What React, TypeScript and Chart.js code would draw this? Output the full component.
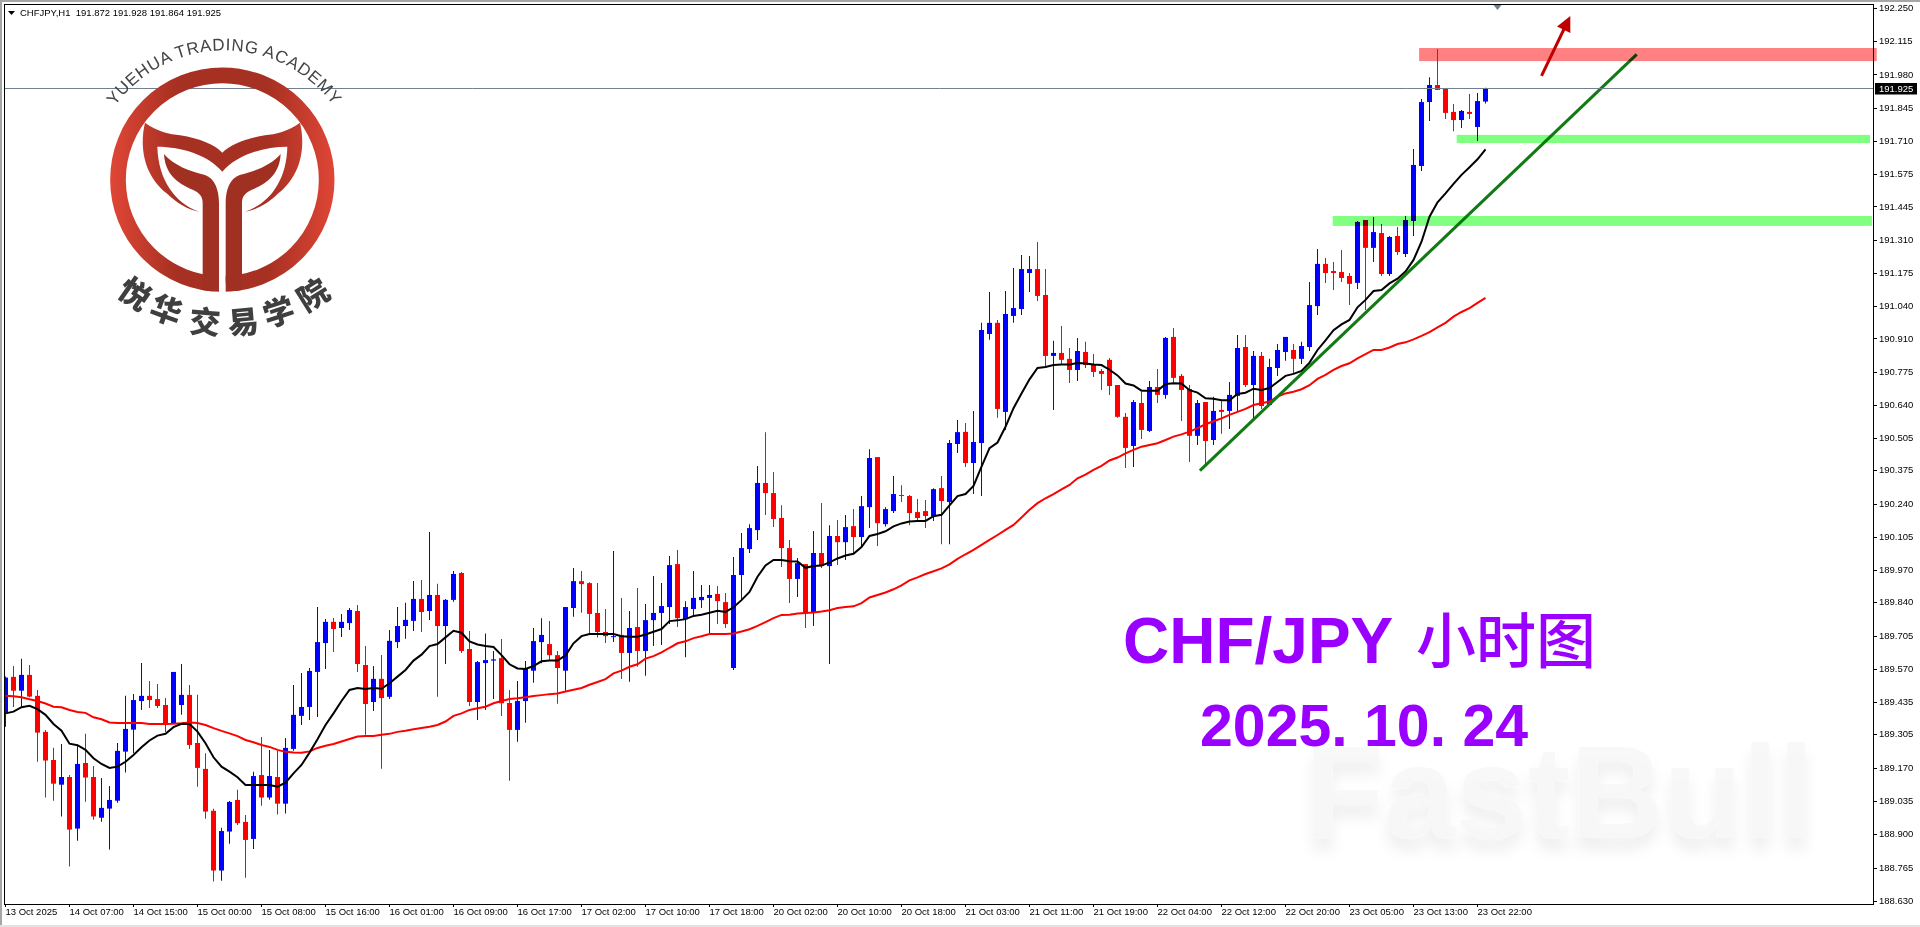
import { useEffect, useRef } from "react";
import { Chart, registerables } from "chart.js";

Chart.register(...registerables);

// CHFJPY H1, one value per bar
const opens = [
  189.396, 189.54, 189.484, 189.548, 189.463, 189.317, 189.203, 189.103, 189.134, 188.925, 189.191, 189.134,
  188.969, 189.006, 189.038, 189.237, 189.326, 189.442, 189.463, 189.45, 189.426, 189.352, 189.426, 189.467,
  189.272, 189.167, 188.997, 188.755, 188.913, 189.041, 188.952, 188.883, 189.142, 189.051, 189.134, 189.026,
  189.248, 189.382, 189.418, 189.56, 189.677, 189.763, 189.738, 189.758, 189.807, 189.588, 189.438, 189.532,
  189.459, 189.681, 189.746, 189.767, 189.856, 189.807, 189.872, 189.746, 189.852, 189.961, 189.653, 189.438,
  189.596, 189.606, 189.616, 189.434, 189.325, 189.442, 189.565, 189.681, 189.673, 189.628, 189.565, 189.819,
  189.928, 189.92, 189.799, 189.722, 189.701, 189.71, 189.637, 189.742, 189.645, 189.77, 189.799, 189.823,
  189.997, 189.774, 189.815, 189.851, 189.86, 189.876, 189.843, 189.576, 189.953, 190.058, 190.135, 190.326,
  190.285, 190.184, 190.062, 189.937, 189.997, 189.803, 190.042, 189.989, 190.111, 190.086, 190.151, 190.107,
  190.228, 190.431, 190.159, 190.212, 190.277, 190.273, 190.208, 190.212, 190.192, 190.305, 190.249, 190.484,
  190.533, 190.407, 190.488, 190.93, 190.975, 190.614, 191.003, 191.031, 191.177, 191.193, 191.088, 190.841,
  190.853, 190.829, 190.784, 190.857, 190.808, 190.78, 190.825, 190.723, 190.594, 190.476, 190.65, 190.537,
  190.715, 190.683, 190.918, 190.76, 190.707, 190.517, 190.654, 190.5, 190.622, 190.618, 190.679, 190.877,
  190.723, 190.841, 190.642, 190.792, 190.857, 190.865, 190.829, 190.877, 191.043, 191.214, 191.185, 191.181,
  191.165, 191.137, 191.392, 191.279, 191.339, 191.173, 191.327, 191.254, 191.388, 191.611, 191.87, 191.939,
  191.923, 191.83, 191.797, 191.83, 191.769, 191.872,
];
const highs = [
  189.541, 189.584, 189.613, 189.588, 189.487, 189.325, 189.253, 189.268, 189.142, 189.26, 189.309, 189.179,
  189.13, 189.098, 189.272, 189.463, 189.471, 189.596, 189.523, 189.511, 189.454, 189.56, 189.592, 189.507,
  189.467, 189.23, 189.005, 188.928, 189.037, 189.082, 188.98, 189.155, 189.296, 189.244, 189.24, 189.292,
  189.507, 189.556, 189.576, 189.823, 189.775, 189.779, 189.795, 189.819, 189.831, 189.665, 189.584, 189.629,
  189.73, 189.823, 189.84, 189.929, 189.933, 190.127, 189.917, 189.856, 189.969, 189.965, 189.726, 189.604,
  189.716, 189.645, 189.693, 189.487, 189.523, 189.604, 189.738, 189.778, 189.766, 189.645, 189.823, 189.981,
  189.969, 189.924, 189.92, 189.815, 190.05, 189.86, 189.807, 189.9, 189.835, 189.949, 189.92, 190.03,
  190.054, 189.847, 189.969, 189.912, 189.912, 189.908, 189.88, 190.026, 190.123, 190.159, 190.395, 190.532,
  190.37, 190.236, 190.095, 190.022, 189.997, 190.131, 190.245, 190.155, 190.176, 190.196, 190.22, 190.273,
  190.463, 190.431, 190.228, 190.354, 190.317, 190.277, 190.261, 190.257, 190.305, 190.354, 190.5, 190.581,
  190.569, 190.618, 190.975, 191.1, 190.987, 191.104, 191.197, 191.25, 191.246, 191.303, 191.193, 190.902,
  190.962, 190.873, 190.914, 190.898, 190.849, 190.788, 190.833, 190.723, 190.61, 190.662, 190.695, 190.739,
  190.788, 190.918, 190.954, 190.768, 190.723, 190.662, 190.654, 190.675, 190.658, 190.735, 190.926, 190.926,
  190.861, 190.857, 190.829, 190.889, 190.918, 190.889, 190.898, 191.141, 191.274, 191.238, 191.222, 191.27,
  191.177, 191.388, 191.392, 191.404, 191.376, 191.327, 191.364, 191.408, 191.68, 191.882, 191.971, 192.085,
  191.923, 191.862, 191.838, 191.903, 191.907, 191.928,
];
const lows = [
  189.338, 189.418, 189.419, 189.457, 189.196, 189.051, 189.038, 188.974, 188.771, 188.876, 189.034, 188.961,
  188.953, 188.84, 189.03, 189.152, 189.23, 189.406, 189.414, 189.414, 189.317, 189.349, 189.386, 189.248,
  189.095, 188.965, 188.71, 188.714, 188.864, 188.94, 188.726, 188.842, 189.018, 189.042, 188.982, 188.986,
  189.24, 189.345, 189.365, 189.377, 189.572, 189.641, 189.702, 189.73, 189.56, 189.305, 189.402, 189.168,
  189.45, 189.657, 189.694, 189.726, 189.722, 189.771, 189.459, 189.592, 189.844, 189.637, 189.422, 189.365,
  189.406, 189.45, 189.381, 189.119, 189.277, 189.354, 189.516, 189.595, 189.608, 189.431, 189.484, 189.784,
  189.8, 189.716, 189.7, 189.677, 189.681, 189.531, 189.52, 189.581, 189.545, 189.665, 189.669, 189.754,
  189.742, 189.62, 189.791, 189.819, 189.716, 189.754, 189.738, 189.568, 189.851, 190.042, 190.095, 190.196,
  190.147, 189.985, 189.839, 189.864, 189.738, 189.746, 189.981, 189.592, 189.993, 190.014, 190.042, 190.066,
  190.143, 190.07, 190.15, 190.204, 190.249, 190.155, 190.176, 190.143, 190.172, 190.078, 190.078, 190.447,
  190.391, 190.281, 190.273, 190.906, 190.59, 190.541, 190.975, 191.007, 191.1, 191.064, 190.792, 190.622,
  190.804, 190.731, 190.739, 190.792, 190.756, 190.703, 190.683, 190.59, 190.387, 190.391, 190.504, 190.533,
  190.65, 190.667, 190.731, 190.577, 190.411, 190.48, 190.399, 190.48, 190.525, 190.545, 190.614, 190.715,
  190.585, 190.626, 190.638, 190.76, 190.821, 190.768, 190.808, 190.861, 191.007, 191.137, 191.108, 191.141,
  191.047, 191.112, 191.027, 191.222, 191.165, 191.165, 191.25, 191.242, 191.327, 191.591, 191.793, 191.919,
  191.801, 191.752, 191.765, 191.801, 191.712, 191.864,
];
const closes = [
  189.537, 189.484, 189.548, 189.46, 189.314, 189.201, 189.107, 189.134, 188.921, 189.187, 189.132, 188.974,
  189.009, 189.041, 189.24, 189.329, 189.446, 189.463, 189.446, 189.422, 189.349, 189.56, 189.467, 189.264,
  189.171, 188.994, 188.755, 188.915, 189.033, 188.947, 188.879, 189.138, 189.051, 189.138, 189.026, 189.252,
  189.386, 189.418, 189.564, 189.681, 189.763, 189.734, 189.763, 189.811, 189.592, 189.43, 189.532, 189.454,
  189.686, 189.746, 189.771, 189.856, 189.803, 189.872, 189.746, 189.852, 189.957, 189.645, 189.438, 189.6,
  189.608, 189.611, 189.433, 189.325, 189.442, 189.572, 189.685, 189.71, 189.628, 189.576, 189.823, 189.928,
  189.916, 189.795, 189.722, 189.705, 189.705, 189.637, 189.738, 189.645, 189.77, 189.799, 189.827, 189.993,
  189.778, 189.823, 189.86, 189.864, 189.872, 189.847, 189.754, 189.953, 190.062, 190.143, 190.326, 190.285,
  190.18, 190.062, 189.937, 190.001, 189.799, 190.042, 189.989, 190.111, 190.086, 190.147, 190.107, 190.232,
  190.427, 190.163, 190.22, 190.281, 190.273, 190.204, 190.184, 190.192, 190.301, 190.253, 190.488, 190.532,
  190.407, 190.492, 190.946, 190.975, 190.626, 191.011, 191.035, 191.193, 191.193, 191.084, 190.841, 190.853,
  190.825, 190.784, 190.861, 190.804, 190.776, 190.768, 190.719, 190.594, 190.468, 190.654, 190.541, 190.715,
  190.683, 190.914, 190.752, 190.703, 190.517, 190.65, 190.496, 190.618, 190.614, 190.683, 190.873, 190.723,
  190.841, 190.638, 190.796, 190.865, 190.918, 190.829, 190.881, 191.047, 191.214, 191.177, 191.177, 191.157,
  191.133, 191.384, 191.279, 191.343, 191.173, 191.323, 191.262, 191.392, 191.615, 191.87, 191.939, 191.919,
  191.826, 191.797, 191.834, 191.822, 191.874, 191.925,
];
const fastMa = [
  189.392, 189.399, 189.417, 189.423, 189.409, 189.386, 189.349, 189.322, 189.269, 189.263, 189.244, 189.21,
  189.187, 189.171, 189.176, 189.196, 189.223, 189.255, 189.282, 189.302, 189.309, 189.336, 189.35, 189.349,
  189.318, 189.271, 189.214, 189.176, 189.156, 189.133, 189.102, 189.102, 189.102, 189.102, 189.095, 189.111,
  189.149, 189.183, 189.233, 189.287, 189.345, 189.392, 189.442, 189.487, 189.495, 189.491, 189.495, 189.492,
  189.514, 189.541, 189.568, 189.606, 189.63, 189.665, 189.673, 189.7, 189.727, 189.719, 189.684, 189.671,
  189.665, 189.661, 189.628, 189.591, 189.574, 189.572, 189.584, 189.603, 189.606, 189.606, 189.627, 189.676,
  189.705, 189.714, 189.714, 189.714, 189.714, 189.705, 189.703, 189.703, 189.712, 189.723, 189.734, 189.766,
  189.769, 189.774, 189.787, 189.792, 189.8, 189.808, 189.803, 189.822, 189.851, 189.884, 189.946, 189.992,
  190.014, 190.014, 190.009, 190.008, 189.982, 189.989, 189.991, 190.004, 190.02, 190.032, 190.039, 190.066,
  190.111, 190.119, 190.13, 190.15, 190.162, 190.17, 190.172, 190.172, 190.191, 190.197, 190.235, 190.273,
  190.281, 190.314, 190.392, 190.467, 190.49, 190.554, 190.629, 190.689, 190.746, 190.792, 190.796, 190.804,
  190.806, 190.806, 190.812, 190.81, 190.806, 190.804, 190.785, 190.762, 190.729, 190.721, 190.7, 190.7,
  190.7, 190.727, 190.73, 190.729, 190.702, 190.692, 190.669, 190.667, 190.661, 190.661, 190.687, 190.692,
  190.708, 190.703, 190.711, 190.735, 190.76, 190.768, 190.78, 190.814, 190.865, 190.904, 190.945, 190.969,
  190.987, 191.038, 191.068, 191.104, 191.108, 191.135, 191.154, 191.183, 191.23, 191.304, 191.405, 191.464,
  191.5, 191.538, 191.575, 191.606, 191.638, 191.678,
];
const slowMa = [
  189.463, 189.461, 189.457, 189.449, 189.442, 189.432, 189.419, 189.417, 189.406, 189.398, 189.394, 189.376,
  189.368, 189.355, 189.353, 189.353, 189.353, 189.353, 189.349, 189.349, 189.349, 189.35, 189.352, 189.355,
  189.353, 189.345, 189.332, 189.321, 189.311, 189.3, 189.284, 189.275, 189.264, 189.256, 189.244, 189.236,
  189.233, 189.232, 189.238, 189.252, 189.261, 189.268, 189.278, 189.288, 189.298, 189.3, 189.3, 189.305,
  189.309, 189.317, 189.322, 189.328, 189.333, 189.338, 189.345, 189.359, 189.382, 189.392, 189.406, 189.413,
  189.419, 189.433, 189.442, 189.45, 189.453, 189.457, 189.462, 189.466, 189.47, 189.473, 189.481, 189.488,
  189.495, 189.508, 189.519, 189.531, 189.554, 189.565, 189.581, 189.591, 189.614, 189.624, 189.639, 189.658,
  189.676, 189.684, 189.697, 189.705, 189.714, 189.714, 189.714, 189.716, 189.724, 189.733, 189.747, 189.762,
  189.778, 189.791, 189.792, 189.797, 189.799, 189.801, 189.805, 189.81, 189.819, 189.823, 189.826, 189.839,
  189.862, 189.872, 189.882, 189.895, 189.911, 189.931, 189.943, 189.957, 189.968, 189.98, 189.996, 190.018,
  190.037, 190.055, 190.075, 190.095, 190.115, 190.136, 190.156, 190.186, 190.217, 190.244, 190.264, 190.281,
  190.3, 190.318, 190.345, 190.36, 190.379, 190.395, 190.417, 190.429, 190.446, 190.46, 190.473, 190.48,
  190.487, 190.5, 190.514, 190.523, 190.534, 190.548, 190.564, 190.576, 190.588, 190.602, 190.614, 190.626,
  190.642, 190.649, 190.656, 190.676, 190.689, 190.696, 190.706, 190.722, 190.748, 190.764, 190.784, 190.8,
  190.811, 190.831, 190.848, 190.865, 190.865, 190.875, 190.889, 190.896, 190.908, 190.922, 190.937, 190.957,
  190.975, 191.0, 191.019, 191.035, 191.056, 191.076,
];

const timeLabels = [
  "13 Oct 2025", "14 Oct 07:00", "14 Oct 15:00", "15 Oct 00:00", "15 Oct 08:00", "15 Oct 16:00",
  "16 Oct 01:00", "16 Oct 09:00", "16 Oct 17:00", "17 Oct 02:00", "17 Oct 10:00", "17 Oct 18:00",
  "20 Oct 02:00", "20 Oct 10:00", "20 Oct 18:00", "21 Oct 03:00", "21 Oct 11:00", "21 Oct 19:00",
  "22 Oct 04:00", "22 Oct 12:00", "22 Oct 20:00", "23 Oct 05:00", "23 Oct 13:00", "23 Oct 22:00",
];
const barsPerLabel = 8;
const priceTicks = [
  192.25, 192.115, 191.98, 191.845, 191.71, 191.575, 191.445, 191.31, 191.175, 191.04, 190.91, 190.775, 190.64,
  190.505, 190.375, 190.24, 190.105, 189.97, 189.84, 189.705, 189.57, 189.435, 189.305, 189.17, 189.035, 188.9,
  188.765, 188.63,
];
const lastPrice = 191.925;
const header = "CHFJPY,H1  191.872 191.928 191.864 191.925";

// hand drawn objects on the chart, in bars and prices
const zones = [
  { from: 176.7, to: 233.9, low: 192.036, high: 192.089, color: "rgb(255,128,128)" },
  { from: 181.4, to: 233.06, low: 191.704, high: 191.737, color: "rgb(128,255,128)" },
  { from: 165.9, to: 233.3, low: 191.368, high: 191.408, color: "rgb(128,255,128)" },
];
const trendBars = [149.3, 203.9];
const trendPrices = [190.376, 192.063];
const arrowBars = [192.0, 195.6];
const arrowPrices = [191.976, 192.219];

const BLUE = "#0000ff";
const RED = "#ff0000";
const axisFont = { family: "'Liberation Sans', Arial", size: 9.5 };

const barColors = closes.map((c, i) => (c >= opens[i] ? BLUE : RED));

// frame, window edges, price line, zones and the arrow
const chartObjects = {
  id: "chartObjects",
  beforeDraw(chart) {
    const { ctx, width, height } = chart;
    ctx.save();
    ctx.fillStyle = "#fff";
    ctx.fillRect(0, 0, width, height);
    ctx.fillStyle = "#a6a6a6";
    ctx.fillRect(0, 0, width, 2);
    ctx.fillRect(0, 0, 2, height);
    ctx.fillStyle = "#e3e3e3";
    ctx.fillRect(0, height - 2, width, 2);
    ctx.restore();
  },
  afterDatasetsDraw(chart) {
    const { ctx, chartArea: a, scales } = chart;
    const x = scales.x;
    const y = scales.y;
    ctx.save();

    const py = Math.round(y.getPixelForValue(lastPrice)) + 0.5;
    ctx.strokeStyle = "#708090";
    ctx.lineWidth = 1;
    ctx.beginPath();
    ctx.moveTo(a.left, py);
    ctx.lineTo(a.right, py);
    ctx.stroke();

    ctx.globalCompositeOperation = "multiply";
    zones.forEach((z) => {
      const x0 = x.getPixelForValue(z.from);
      const x1 = x.getPixelForValue(z.to);
      const y0 = y.getPixelForValue(z.high);
      const y1 = y.getPixelForValue(z.low);
      ctx.fillStyle = z.color;
      ctx.fillRect(x0, y0, x1 - x0, y1 - y0);
    });
    ctx.globalCompositeOperation = "source-over";

    // frame
    ctx.strokeStyle = "#000";
    ctx.strokeRect(a.left - 0.5, a.top - 0.5, a.right - a.left, a.bottom - a.top + 1);

    // red arrow
    const ax0 = x.getPixelForValue(arrowBars[0]);
    const ay0 = y.getPixelForValue(arrowPrices[0]);
    const ax1 = x.getPixelForValue(arrowBars[1]);
    const ay1 = y.getPixelForValue(arrowPrices[1]);
    const ang = Math.atan2(ay1 - ay0, ax1 - ax0);
    ctx.strokeStyle = "#c00000";
    ctx.fillStyle = "#c00000";
    ctx.lineWidth = 3;
    ctx.beginPath();
    ctx.moveTo(ax0, ay0);
    ctx.lineTo(ax1 - 12 * Math.cos(ang), ay1 - 12 * Math.sin(ang));
    ctx.stroke();
    ctx.beginPath();
    ctx.moveTo(ax1, ay1);
    ctx.lineTo(ax1 - 17 * Math.cos(ang - 0.45), ay1 - 17 * Math.sin(ang - 0.45));
    ctx.lineTo(ax1 - 17 * Math.cos(ang + 0.45), ay1 - 17 * Math.sin(ang + 0.45));
    ctx.closePath();
    ctx.fill();

    // shift marker on the top edge
    const mx = x.getPixelForValue(186.5);
    ctx.fillStyle = "#708090";
    ctx.beginPath();
    ctx.moveTo(mx - 4, a.top);
    ctx.lineTo(mx + 4, a.top);
    ctx.lineTo(mx, a.top + 5);
    ctx.closePath();
    ctx.fill();

    // last price box
    ctx.fillStyle = "#000";
    ctx.fillRect(a.right + 1, py - 5.5, 42, 11.5);
    ctx.fillStyle = "#fff";
    ctx.font = `${axisFont.size}px ${axisFont.family}`;
    ctx.textBaseline = "middle";
    ctx.fillText(lastPrice.toFixed(3), a.right + 5, py + 0.5);

    // header
    ctx.fillStyle = "#000";
    ctx.beginPath();
    ctx.moveTo(8, 11);
    ctx.lineTo(15, 11);
    ctx.lineTo(11.5, 15);
    ctx.closePath();
    ctx.fill();
    ctx.fillText(header, 20, 13);

    ctx.restore();
  },
};

const noLabelMargins = (s) => {
  s.paddingLeft = 0;
  s.paddingRight = 0;
  s.paddingTop = 0;
  s.paddingBottom = 0;
};

const App = () => {
  const canvasRef = useRef<HTMLCanvasElement>(null);

  useEffect(() => {
    const chart = new Chart(canvasRef.current, {
      type: "bar",
      data: {
        datasets: [
          {
            type: "line",
            label: "trend",
            data: trendBars.map((b, i) => ({ x: b, y: trendPrices[i] })),
            borderColor: "#127a12",
            borderWidth: 3,
            pointRadius: 0,
            order: 1,
          },
          {
            type: "line",
            label: "MA fast",
            data: fastMa.map((v, i) => ({ x: i, y: v })),
            borderColor: "#000",
            borderWidth: 2,
            pointRadius: 0,
            order: 2,
          },
          {
            type: "line",
            label: "MA slow",
            data: slowMa.map((v, i) => ({ x: i, y: v })),
            borderColor: RED,
            borderWidth: 2,
            pointRadius: 0,
            order: 3,
          },
          {
            label: "body",
            data: opens.map((o, i) => ({ x: i, y: [o, closes[i]] })),
            backgroundColor: barColors,
            barThickness: 5,
            grouped: false,
            inflateAmount: 0,
            borderWidth: 0,
            order: 4,
          },
          {
            label: "wick",
            data: lows.map((l, i) => ({ x: i, y: [l, highs[i]] })),
            backgroundColor: barColors,
            barThickness: 1,
            grouped: false,
            inflateAmount: 0,
            borderWidth: 0,
            order: 5,
          },
        ],
      },
      options: {
        animation: false,
        responsive: false,
        devicePixelRatio: 1,
        layout: { padding: { left: 5, top: 5, right: 0, bottom: 0 } },
        plugins: { legend: { display: false }, tooltip: { enabled: false } },
        scales: {
          x: {
            type: "linear",
            offset: false,
            min: -0.0625,
            max: 233.56,
            afterBuildTicks: (s) => {
              s.ticks = timeLabels.map((_, i) => ({ value: i * barsPerLabel }));
            },
            afterFit: (s) => {
              s.height = 23;
              noLabelMargins(s);
            },
            border: { display: false },
            grid: { offset: false, drawOnChartArea: false, color: "#000", tickLength: 3 },
            ticks: {
              autoSkip: false,
              maxRotation: 0,
              minRotation: 0,
              align: "start",
              padding: 0,
              color: "#000",
              font: axisFont,
              callback: (v) => timeLabels[Math.round(Number(v) / barsPerLabel)],
            },
          },
          y: {
            type: "linear",
            position: "right",
            min: 188.6193,
            max: 192.2634,
            afterBuildTicks: (s) => {
              s.ticks = priceTicks.map((p) => ({ value: p }));
            },
            afterFit: (s) => {
              s.width = 46;
              noLabelMargins(s);
            },
            border: { display: false },
            grid: { drawOnChartArea: false, color: "#000", tickLength: 3 },
            ticks: {
              autoSkip: false,
              padding: 2,
              color: "#000",
              font: axisFont,
              callback: (v) => Number(v).toFixed(3),
            },
          },
        },
      },
      plugins: [chartObjects],
    });
    return () => chart.destroy();
  }, []);

  const academy = "#444";
  const logoChars = [
    { c: "悦", x: 136, y: 292, r: 35 },
    { c: "华", x: 167, y: 308, r: 20 },
    { c: "交", x: 205, y: 320, r: 5 },
    { c: "易", x: 243, y: 320, r: -5 },
    { c: "学", x: 278, y: 310, r: -18 },
    { c: "院", x: 312, y: 293, r: -32 },
  ];
  const stem =
    "M222 372 C250 405 300 425 345 435 C375 445 387 480 387 520 L387 755 Q387 775 355 783 L338 780 L338 520 C338 500 330 490 310 480 C260 460 225 430 222 372 Z";

  return (
    <div style={{ position: "fixed", left: 0, top: 0, width: 1920, height: 927, overflow: "hidden", background: "#fff" }}>
      <canvas ref={canvasRef} width={1920} height={927} style={{ position: "absolute", left: 0, top: 0 }} />
      <svg width={1920} height={927} style={{ position: "absolute", left: 0, top: 0 }}>
        <defs>
          <linearGradient id="ringGrad" gradientUnits="userSpaceOnUse" x1="60" y1="0" x2="735" y2="0">
            <stop offset="0" stopColor="#e04636" />
            <stop offset="0.3" stopColor="#a63022" />
            <stop offset="0.7" stopColor="#a63022" />
            <stop offset="1" stopColor="#e04636" />
          </linearGradient>
          <path id="academyArc" d="M60 250 A406 406 0 0 1 746 250" />
          <filter id="wmShadow" x="-10%" y="-20%" width="120%" height="150%">
            <feDropShadow dx="0" dy="12" stdDeviation="7" floodColor="#000" floodOpacity="0.07" />
          </filter>
        </defs>

        <text
          style={{ fontFamily: "'Liberation Sans', Arial", fontWeight: 700, fontSize: 64, fill: "#9900ff" }}
          y={663}
        >
          <tspan x={1123}>CHF/JPY</tspan>
          <tspan x={1416} style={{ fontFamily: "'Noto Sans CJK SC'", fontWeight: 500, fontSize: 60 }}>
            小时图
          </tspan>
        </text>
        <text
          x={1200}
          y={746}
          style={{ fontFamily: "'Liberation Sans', Arial", fontWeight: 700, fontSize: 59, fill: "#9900ff" }}
          xmlSpace="preserve"
        >
          2025. 10. 24
        </text>
        <text
          x={1305}
          y={838}
          textLength={509}
          lengthAdjust="spacingAndGlyphs"
          filter="url(#wmShadow)"
          style={{ fontFamily: "'Liberation Sans', Arial", fontWeight: 700, fontSize: 132, fill: "#f7f7f7", fillOpacity: 0.9 }}
        >
          FastBull
        </text>

        <g transform="translate(90 30) scale(0.33333)">
          <circle cx="397" cy="449" r="313" fill="none" stroke="url(#ringGrad)" strokeWidth="47" />
          <rect x="387" y="600" width="20" height="200" fill="#fff" />
          <path
            fill="url(#ringGrad)"
            d="M165 278 C200 305 240 312 270 316 C330 325 375 345 397 368 C420 345 465 325 525 316 C555 312 595 305 630 278 C645 340 640 430 565 490 C535 520 500 540 465 545 C540 520 590 450 592 350 C520 350 440 375 397 425 C355 375 275 350 202 350 C205 450 255 520 328 545 C295 540 260 520 230 490 C155 430 150 340 165 278 Z"
          />
          <path fill="#a03022" d={stem} />
          <path fill="#a03022" d={stem} transform="translate(794 0) scale(-1 1)" />
          <text style={{ fontFamily: "'Liberation Sans', Arial", fontSize: 51, letterSpacing: 2.2, fill: academy }}>
            <textPath href="#academyArc" startOffset="50%" textAnchor="middle">
              YUEHUA TRADING ACADEMY
            </textPath>
          </text>
        </g>
        {logoChars.map((l) => (
          <text
            key={l.c}
            x={l.x}
            y={l.y}
            textAnchor="middle"
            dominantBaseline="central"
            transform={`rotate(${l.r} ${l.x} ${l.y})`}
            style={{ fontFamily: "'Noto Sans CJK SC'", fontWeight: 900, fontSize: 31, fill: "#3f3f3f" }}
          >
            {l.c}
          </text>
        ))}
      </svg>
    </div>
  );
};

export default App;
